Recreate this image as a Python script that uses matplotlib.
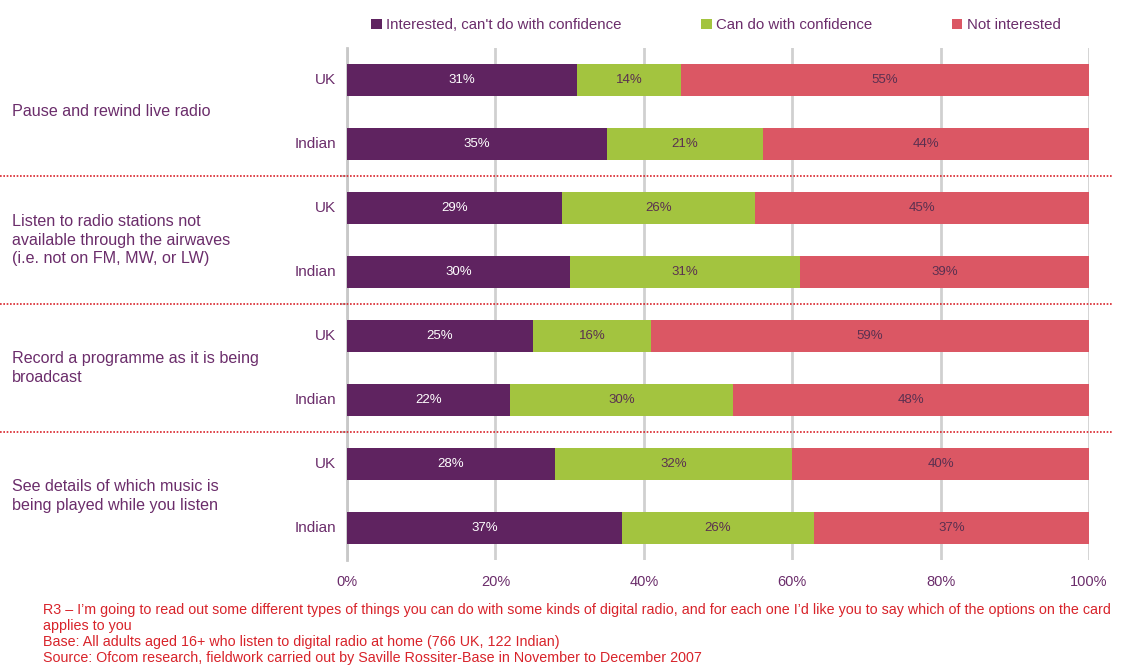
import numpy as np
import matplotlib.pyplot as plt

plt.rcParams['font.family'] = ['Liberation Sans', 'DejaVu Sans']

groups = ["Pause and rewind live radio",
          "Listen to radio stations not\navailable through the airwaves\n(i.e. not on FM, MW, or LW)",
          "Record a programme as it is being\nbroadcast",
          "See details of which music is\nbeing played while you listen"]
rows = ["UK", "Indian"]
series = ["Interested, can't do with confidence", "Can do with confidence", "Not interested"]
interested = [31, 35, 29, 30, 25, 22, 28, 37]
can_do = [14, 21, 26, 31, 16, 30, 32, 26]
not_int = [55, 44, 45, 39, 59, 48, 40, 37]
ticks = [0, 20, 40, 60, 80, 100]

purple = '#5F2360'
green = '#A3C43F'
red = '#DB5764'
txt = '#6B2D6B'
foot = '#D8232A'

fig = plt.figure(figsize=(11.41, 6.71), dpi=100)
ax = fig.add_axes([347/1141, 1-560/671, 742/1141, 512/671])

y = np.arange(8)
vals = [interested, can_do, not_int]
cols = [purple, green, red]
tcol = ['white', '#5A3050', '#5A3050']
left = np.zeros(8)
for v, c, t, name in zip(vals, cols, tcol, series):
    v = np.array(v, dtype=float)
    ax.barh(y, v, left=left, height=0.5, color=c, label=name, zorder=3)
    for yi, (l, w) in enumerate(zip(left, v)):
        ax.text(l + w/2, yi, f"{int(w)}%", ha='center', va='center', color=t, fontsize=9.5, zorder=4)
    left += v

ax.set_xlim(0, 100)
ax.set_ylim(7.5, -0.5)
ax.set_xticks(ticks)
ax.set_xticklabels([f"{t}%" for t in ticks], color=txt, fontsize=10.5)
ax.tick_params(axis='x', length=0, pad=11)
ax.grid(axis='x', color='#D0D0D0', linewidth=2, zorder=0)
ax.set_yticks([1.5, 3.5, 5.5], minor=True)
ax.set_yticks([])
ax.tick_params(axis='y', which='minor', length=5, color='#C8C8C8', width=1.5)
for s in ['top', 'right', 'bottom']:
    ax.spines[s].set_visible(False)
ax.spines['left'].set_color('#C8C8C8')
ax.spines['left'].set_linewidth(2)

for yi in y:
    ax.text(-1.5, yi, rows[yi % 2], ha='right', va='center', color=txt, fontsize=11)

for gi, g in enumerate(groups):
    ax.text(-45.1, 2*gi + 0.5, g, ha='left', va='center', color=txt, fontsize=11.6, linespacing=1.32)
for b in [1.5, 3.5, 5.5]:
    ax.plot([-46.8, 103.2], [b, b], color=foot, linestyle=(0, (1, 1)), linewidth=1.2, clip_on=False, zorder=5)

fig.legend(loc='upper left', bbox_to_anchor=(365/1141, 1-12/671), ncol=3, frameon=False,
           fontsize=10.8, handlelength=0.7, handleheight=0.7, handletextpad=0.3,
           columnspacing=5.3, labelcolor=txt, borderaxespad=0)

notes = ("R3 \u2013 I\u2019m going to read out some different types of things you can do with some kinds of digital radio, and for each one I\u2019d like you to say which of the options on the card\n"
         "applies to you\n"
         "Base: All adults aged 16+ who listen to digital radio at home (766 UK, 122 Indian)\n"
         "Source: Ofcom research, fieldwork carried out by Saville Rossiter-Base in November to December 2007")
fig.text(43/1141, 1-603/671, notes, ha='left', va='top', color=foot, fontsize=10.3, linespacing=1.18)

fig.savefig('out.png', dpi=100)
